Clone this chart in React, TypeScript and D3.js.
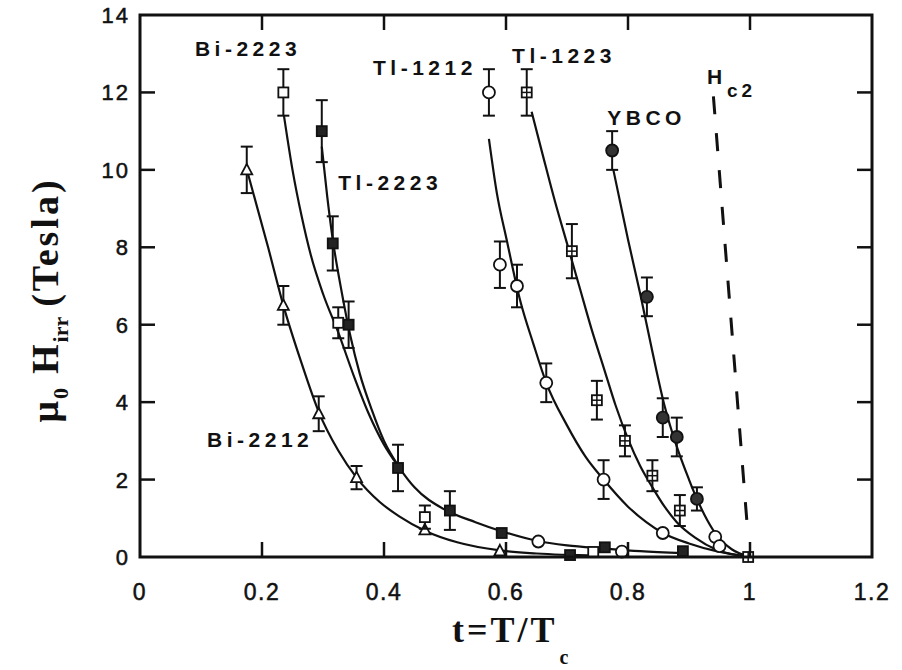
import React from "react";
import * as d3 from "d3";

// ---------- data ----------
const xTicks = [0, 0.2, 0.4, 0.6, 0.8, 1, 1.2];
const yTicks = [0, 2, 4, 6, 8, 10, 12, 14];

// Bi-2212 : open triangles
const bi2212T = [0.175, 0.235, 0.293, 0.355, 0.467, 0.59];
const bi2212H = [10.0, 6.5, 3.7, 2.05, 0.7, 0.16];
const bi2212Err = [0.6, 0.5, 0.45, 0.3, 0, 0];
const bi2212CurveT = [0.177, 0.21, 0.235, 0.265, 0.293, 0.325, 0.355, 0.393, 0.425, 0.467, 0.52, 0.59, 0.65, 0.75];
const bi2212CurveH = [9.9, 8.0, 6.5, 5.0, 3.75, 2.75, 2.05, 1.42, 1.05, 0.68, 0.38, 0.17, 0.09, 0.04];

// Bi-2223 : open squares
const bi2223T = [0.235, 0.325, 0.467, 0.743];
const bi2223H = [12.0, 6.05, 1.03, 0.13];
const bi2223Err = [0.6, 0.4, 0.3, 0];
const bi2223CurveT = [0.236, 0.25, 0.265, 0.28, 0.3, 0.325, 0.35, 0.375, 0.4, 0.423, 0.45, 0.5, 0.55, 0.59, 0.65, 0.7, 0.76, 0.82, 0.89];
const bi2223CurveH = [11.4, 10.0, 8.8, 7.8, 6.8, 5.8, 4.7, 3.7, 2.9, 2.35, 1.8, 1.22, 0.9, 0.68, 0.42, 0.3, 0.22, 0.15, 0.1];

// Tl-2223 : filled squares
const tl2223T = [0.298, 0.316, 0.342, 0.423, 0.508, 0.593, 0.705, 0.762, 0.89];
const tl2223H = [11.0, 8.1, 6.0, 2.3, 1.2, 0.62, 0.05, 0.25, 0.15];
const tl2223Err = [0.8, 0.7, 0.6, 0.6, 0.5, 0, 0, 0, 0];
const tl2223CurveT = [0.298, 0.307, 0.316, 0.33, 0.345, 0.36, 0.38, 0.4, 0.423];
const tl2223CurveH = [10.6, 9.3, 8.2, 6.9, 5.7, 4.75, 3.8, 3.0, 2.37];

// Tl-1212 : open circles
const tl1212T = [0.572, 0.59, 0.618, 0.666, 0.76, 0.857, 0.943, 0.653, 0.79, 0.95];
const tl1212H = [12.0, 7.55, 7.0, 4.5, 2.0, 0.62, 0.52, 0.4, 0.14, 0.28];
const tl1212Err = [0.6, 0.6, 0.55, 0.5, 0.5, 0, 0, 0, 0, 0];
const tl1212CurveT = [0.572, 0.585, 0.601, 0.623, 0.645, 0.666, 0.7, 0.73, 0.76, 0.8, 0.83, 0.857, 0.9, 0.945, 1.0];
const tl1212CurveH = [10.8, 9.4, 8.2, 6.64, 5.5, 4.5, 3.4, 2.6, 2.0, 1.3, 0.9, 0.62, 0.35, 0.15, 0.0];

// Tl-1223 : crossed squares
const tl1223T = [0.634, 0.708, 0.749, 0.795, 0.84, 0.885, 0.997];
const tl1223H = [12.0, 7.9, 4.05, 3.0, 2.1, 1.2, 0.0];
const tl1223Err = [0.6, 0.7, 0.5, 0.4, 0.4, 0.4, 0];
const tl1223CurveT = [0.642, 0.66, 0.68, 0.7, 0.72, 0.74, 0.76, 0.78, 0.8, 0.82, 0.84, 0.86, 0.88, 0.91, 0.946, 1.0];
const tl1223CurveH = [11.5, 10.4, 9.2, 8.1, 7.0, 5.9, 4.9, 3.9, 3.05, 2.35, 1.8, 1.3, 0.9, 0.5, 0.18, 0.0];

// YBCO : filled circles
const ybcoT = [0.774, 0.831, 0.857, 0.88, 0.913];
const ybcoH = [10.5, 6.72, 3.6, 3.1, 1.5];
const ybcoErr = [0.5, 0.5, 0.5, 0.5, 0.3];
const ybcoCurveT = [0.776, 0.8, 0.82, 0.84, 0.86, 0.88, 0.9, 0.913, 0.93, 0.946, 0.97, 1.0];
const ybcoCurveH = [10.0, 8.2, 6.8, 5.3, 3.9, 2.85, 2.0, 1.5, 0.95, 0.55, 0.2, 0.0];

// Hc2 dashed line
const hc2T = [0.94, 0.995];
const hc2H = [11.9, 0.9];

const seriesNames = ["Bi-2223", "Tl-1212", "Tl-1223", "YBCO", "Tl-2223", "Bi-2212"];

// ---------- layout ----------
const W = 902, H = 670;
const M = { left: 140, right: 872, top: 15, bottom: 557 };
const labelFont = "'Liberation Sans', Arial, Helvetica, sans-serif";
const serif = "'Liberation Serif', 'Times New Roman', serif";

const x = d3.scaleLinear().domain([0, 1.2]).range([M.left, M.right]);
const y = d3.scaleLinear().domain([0, 14]).range([M.bottom, M.top]);

type Marker = "tri" | "sq" | "fsq" | "xsq" | "circ" | "fcirc";

function zip(t: number[], h: number[], e?: number[]) {
  return t.map((tv, i) => ({ t: tv, h: h[i], e: e ? e[i] : 0 }));
}

const series: { pts: { t: number; h: number; e: number }[]; marker: Marker }[] = [
  { pts: zip(bi2212T, bi2212H, bi2212Err), marker: "tri" },
  { pts: zip(bi2223T, bi2223H, bi2223Err), marker: "sq" },
  { pts: zip(tl2223T, tl2223H, tl2223Err), marker: "fsq" },
  { pts: zip(tl1212T, tl1212H, tl1212Err), marker: "circ" },
  { pts: zip(tl1223T, tl1223H, tl1223Err), marker: "xsq" },
  { pts: zip(ybcoT, ybcoH, ybcoErr), marker: "fcirc" },
];

const curves = [
  zip(bi2212CurveT, bi2212CurveH),
  zip(bi2223CurveT, bi2223CurveH),
  zip(tl2223CurveT, tl2223CurveH),
  zip(tl1212CurveT, tl1212CurveH),
  zip(tl1223CurveT, tl1223CurveH),
  zip(ybcoCurveT, ybcoCurveH),
];

// label anchor positions (data units) for seriesNames
const labelPos = [
  [0.09, 12.93],
  [0.382, 12.45],
  [0.61, 12.76],
  [0.766, 11.16],
  [0.325, 9.48],
  [0.11, 2.84],
];

const line = d3
  .line<{ t: number; h: number }>()
  .x((d) => x(d.t))
  .y((d) => y(d.h))
  .curve(d3.curveMonotoneX);

function MarkerShape({ m, cx, cy }: { m: Marker; cx: number; cy: number }) {
  const s = 5;
  const sw = 1.8;
  switch (m) {
    case "tri":
      return (
        <path
          d={`M${cx},${cy - 6} L${cx + 5.5},${cy + 4.5} L${cx - 5.5},${cy + 4.5} Z`}
          fill="white"
          stroke="#111"
          strokeWidth={sw}
        />
      );
    case "sq":
      return <rect x={cx - s} y={cy - s} width={2 * s} height={2 * s} fill="white" stroke="#111" strokeWidth={sw} />;
    case "fsq":
      return <rect x={cx - s} y={cy - s} width={2 * s} height={2 * s} fill="#222" stroke="#111" strokeWidth={sw} />;
    case "xsq":
      return (
        <g>
          <rect x={cx - s} y={cy - s} width={2 * s} height={2 * s} fill="white" stroke="#111" strokeWidth={sw} />
          <line x1={cx - s} x2={cx + s} y1={cy} y2={cy} stroke="#111" strokeWidth={1.5} />
          <line x1={cx} x2={cx} y1={cy - s} y2={cy + s} stroke="#111" strokeWidth={1.5} />
        </g>
      );
    case "circ":
      return <circle cx={cx} cy={cy} r={6} fill="white" stroke="#111" strokeWidth={sw} />;
    case "fcirc":
      return <circle cx={cx} cy={cy} r={6} fill="#333" stroke="#111" strokeWidth={sw} />;
  }
  return null;
}

export default function App() {
  const tickLen = 15;
  return (
    <svg
      width={W}
      height={H}
      viewBox={`0 0 ${W} ${H}`}
      style={{ position: "absolute", left: 0, top: 0, background: "white" }}
    >
      <rect x={0} y={0} width={W} height={H} fill="white" />

      {/* curves */}
      {curves.map((c, i) => (
        <path key={"c" + i} d={line(c) || ""} fill="none" stroke="#111" strokeWidth={2.2} />
      ))}

      {/* Hc2 dashed */}
      <line
        x1={x(hc2T[0])}
        y1={y(hc2H[0])}
        x2={x(hc2T[1])}
        y2={y(hc2H[1])}
        stroke="#111"
        strokeWidth={3}
        strokeDasharray="18 19"
      />

      {/* error bars + markers */}
      {series.map((s, si) => (
        <g key={"s" + si}>
          {s.pts.map((p, i) =>
            p.e > 0 ? (
              <g key={"e" + i} stroke="#111" strokeWidth={2}>
                <line x1={x(p.t)} x2={x(p.t)} y1={y(p.h + p.e)} y2={y(p.h - p.e)} />
                <line x1={x(p.t) - 6} x2={x(p.t) + 6} y1={y(p.h + p.e)} y2={y(p.h + p.e)} />
                <line x1={x(p.t) - 6} x2={x(p.t) + 6} y1={y(p.h - p.e)} y2={y(p.h - p.e)} />
              </g>
            ) : null
          )}
          {s.pts.map((p, i) => (
            <MarkerShape key={"m" + i} m={s.marker} cx={x(p.t)} cy={y(p.h)} />
          ))}
        </g>
      ))}

      {/* frame */}
      <rect
        x={M.left}
        y={M.top}
        width={M.right - M.left}
        height={M.bottom - M.top}
        fill="none"
        stroke="#111"
        strokeWidth={3}
      />

      {/* ticks */}
      {xTicks.slice(1, -1).map((t) => (
        <g key={"xt" + t} stroke="#111" strokeWidth={2.5}>
          <line x1={x(t)} x2={x(t)} y1={M.bottom} y2={M.bottom - tickLen} />
          <line x1={x(t)} x2={x(t)} y1={M.top} y2={M.top + tickLen} />
        </g>
      ))}
      {yTicks.slice(1, -1).map((t) => (
        <g key={"yt" + t} stroke="#111" strokeWidth={2.5}>
          <line x1={M.left} x2={M.left + tickLen} y1={y(t)} y2={y(t)} />
          <line x1={M.right} x2={M.right - tickLen} y1={y(t)} y2={y(t)} />
        </g>
      ))}

      {/* tick labels */}
      {xTicks.map((t) => (
        <text
          key={"xl" + t}
          x={x(t)}
          y={600}
          textAnchor="middle"
          fontFamily={labelFont}
          fontSize={23}
          letterSpacing={1.5}
          fill="#111"
          stroke="#111"
          strokeWidth={0.5}
        >
          {String(t)}
        </text>
      ))}
      {yTicks.map((t) => (
        <text
          key={"yl" + t}
          x={130}
          y={y(t) + 8}
          textAnchor="end"
          fontFamily={labelFont}
          fontSize={22}
          letterSpacing={2}
          fill="#111"
          stroke="#111"
          strokeWidth={0.5}
        >
          {String(t)}
        </text>
      ))}

      {/* series labels */}
      {seriesNames.map((n, i) => (
        <text
          key={"lab" + i}
          x={x(labelPos[i][0])}
          y={y(labelPos[i][1])}
          fontFamily={labelFont}
          fontWeight="bold"
          fontSize={21}
          letterSpacing={4.5}
          fill="#111"
        >
          {n}
        </text>
      ))}
      <text x={707} y={84} fontFamily={labelFont} fontWeight="bold" fontSize={21} fill="#111">
        H
      </text>
      <text x={727} y={97} fontFamily={labelFont} fontWeight="bold" fontSize={19} letterSpacing={4} fill="#111">
        c2
      </text>

      {/* axis titles */}
      <text x={452} y={642} fontFamily={serif} fontWeight="bold" fontSize={36} letterSpacing={3} fill="#111">
        t=T/T
        <tspan fontSize={20} dx={2} dy={22}>
          c
        </tspan>
      </text>
      <text
        transform="translate(58,300) rotate(-90)"
        textAnchor="middle"
        fontFamily={serif}
        fontWeight="bold"
        fontSize={38}
        fill="#111"
      >
        μ
        <tspan fontSize={22} dy={10} dx={2}>
          0
        </tspan>
        <tspan dy={-10} dx={14}>
          H
        </tspan>
        <tspan fontSize={22} dy={10} dx={2}>
          irr
        </tspan>
        <tspan dy={-10} dx={10} letterSpacing={3}>
          (Tesla)
        </tspan>
      </text>
    </svg>
  );
}
